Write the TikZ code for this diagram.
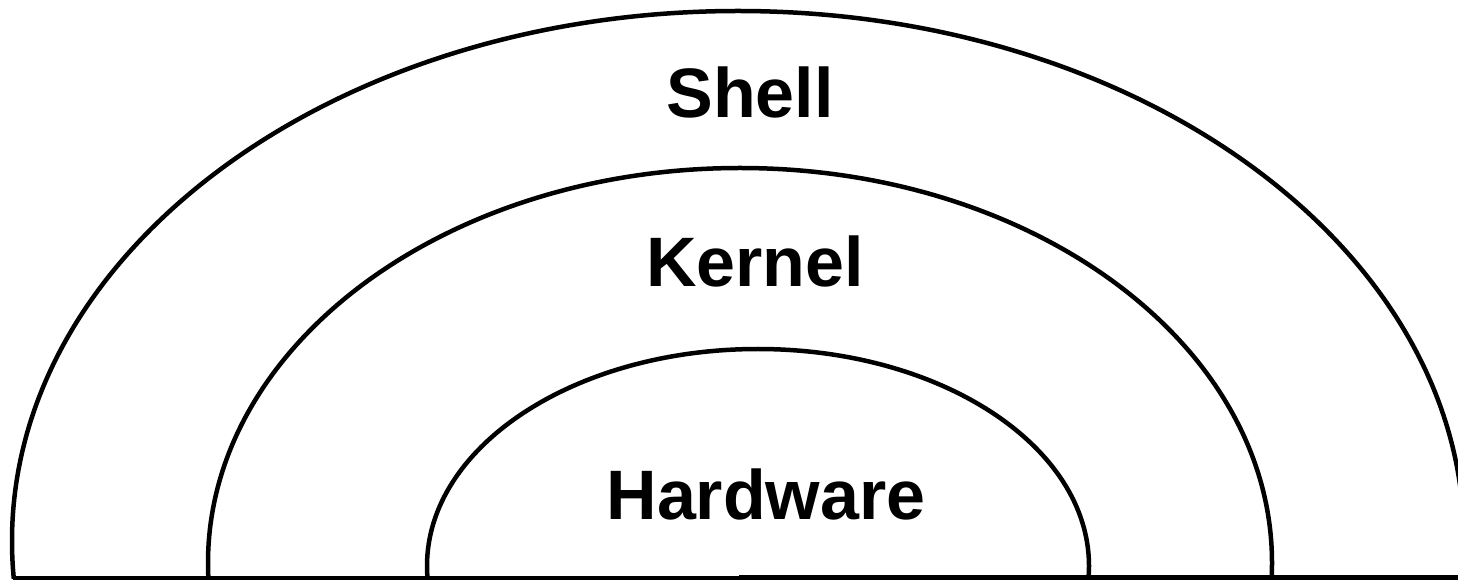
\documentclass[tikz,border=0pt]{standalone}
\usepackage{fontspec}
\setmainfont{Liberation Sans}
\begin{document}
\begin{tikzpicture}[x=1pt,y=1pt,
  layer/.style={line width=4.5pt, black},
  lbl/.style={font=\fontsize{70}{84}\selectfont\bfseries, anchor=base, inner sep=0pt}]
\clip (0,0) rectangle (1458,581);
\fill[white] (0,0) rectangle (1458,581);
\coordinate (outerC) at (738,40);
\coordinate (midC) at (740,18);
\coordinate (innerC) at (758,15);
\coordinate (baseL) at (13,3.5);
\coordinate (baseM) at (739,3.5);
\coordinate (baseR) at (1458,3.5);
\begin{scope}
  \clip (0,3) rectangle (1458,581);
  \draw[layer] (outerC) ellipse[x radius=726, y radius=530];
  \draw[layer] (midC) ellipse[x radius=532, y radius=395];
  \draw[layer] (innerC) ellipse[x radius=331, y radius=217];
\end{scope}
\draw[line width=4pt] (baseL) -- (baseM);
\draw[line width=5.5pt] (baseM) -- (baseR);
\node[lbl] (shell) at (750,463) {Shell};
\node[lbl] (kernel) at (755,294) {Kernel};
\node[lbl] (hardware) at (766,62) {Hardware};
\end{tikzpicture}
\end{document}
